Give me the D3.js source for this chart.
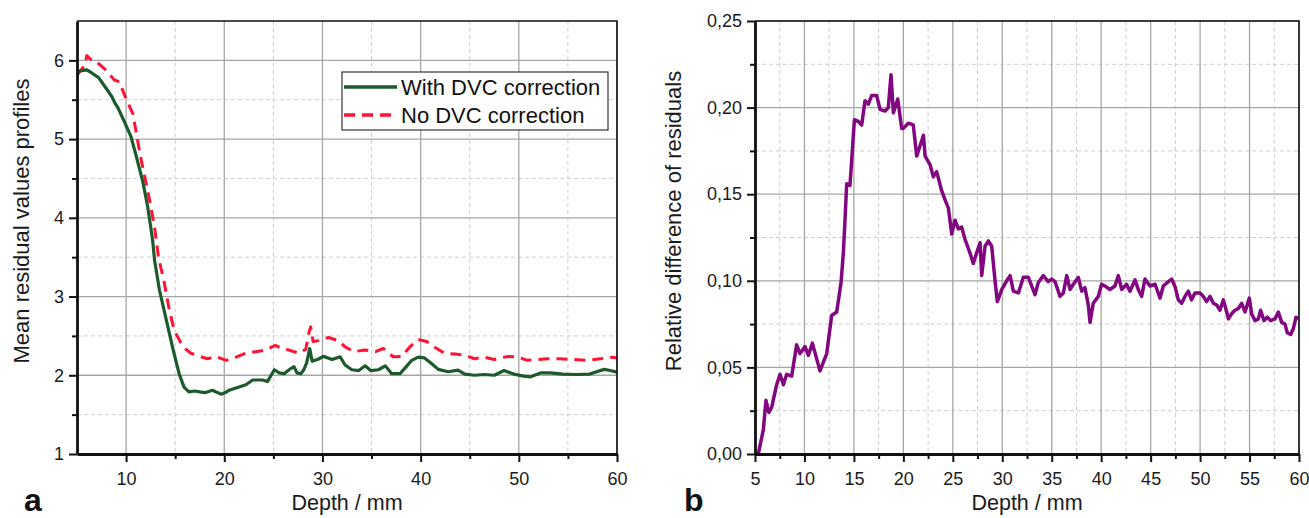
<!DOCTYPE html>
<html>
<head>
<meta charset="utf-8">
<script src="https://cdnjs.cloudflare.com/ajax/libs/d3/7.8.5/d3.min.js"></script>
<style>
  body { margin: 0; background: #fff; }
  svg { display: block; font-family: "Liberation Sans", Arial, sans-serif; }
</style>
</head>
<body>
<div class="canvas"></div>
<script>
// panel a: mean residual values profiles [depth mm, value]
const withDvc = [[5.0,5.86],[6.0,5.88],[6.5,5.84],[7.2,5.78],[8.0,5.64],[8.5,5.55],[8.9,5.45],[9.2,5.39],[9.9,5.2],[10.5,5.03],[11.0,4.8],[11.7,4.46],[12.2,4.14],[12.7,3.72],[12.9,3.46],[13.4,3.08],[14.1,2.70],[14.8,2.32],[15.4,2.02],[15.9,1.85],[16.4,1.79],[17.0,1.80],[17.5,1.79],[18.1,1.78],[18.8,1.81],[19.3,1.78],[19.7,1.76],[20.1,1.78],[20.5,1.81],[21.5,1.85],[22.2,1.88],[22.9,1.94],[23.9,1.94],[24.4,1.92],[25.1,2.07],[25.6,2.03],[26.1,2.02],[26.6,2.07],[27.1,2.11],[27.4,2.03],[27.8,2.02],[28.1,2.07],[28.4,2.16],[28.7,2.34],[28.95,2.18],[29.5,2.20],[30.1,2.24],[31.0,2.20],[31.8,2.235],[32.3,2.13],[33.0,2.07],[33.7,2.06],[34.35,2.12],[34.9,2.06],[35.7,2.07],[36.4,2.12],[37.05,2.02],[37.9,2.02],[38.4,2.09],[39.1,2.19],[39.75,2.23],[40.4,2.22],[41.1,2.15],[41.8,2.075],[42.8,2.045],[43.8,2.065],[44.5,2.015],[45.5,2.0],[46.5,2.01],[47.5,2.0],[48.5,2.06],[49.5,2.015],[50.5,1.99],[51.2,1.98],[52.2,2.03],[53.2,2.03],[54.5,2.015],[55.9,2.01],[57.2,2.015],[58.7,2.075],[59.3,2.06],[60.0,2.04]];

const noDvc = [[5.0,5.81],[5.8,5.94],[6.0,6.06],[6.5,6.0],[7.0,5.98],[8.0,5.87],[8.8,5.75],[9.3,5.73],[10.0,5.51],[10.7,5.32],[11.4,4.82],[11.9,4.52],[12.4,4.22],[12.9,3.88],[13.3,3.5],[13.9,3.17],[14.4,2.83],[14.9,2.57],[15.8,2.36],[16.6,2.28],[17.5,2.24],[18.3,2.21],[19.1,2.24],[20.2,2.19],[21.2,2.23],[22.2,2.28],[23.2,2.30],[24.2,2.32],[25.2,2.38],[25.9,2.34],[26.6,2.32],[27.6,2.28],[28.3,2.33],[28.6,2.53],[28.8,2.615],[29.05,2.43],[29.6,2.44],[30.6,2.48],[31.6,2.44],[32.3,2.36],[33.2,2.30],[34.3,2.32],[35.4,2.30],[36.2,2.34],[37.2,2.235],[38.1,2.24],[38.9,2.36],[39.75,2.455],[40.6,2.43],[41.4,2.36],[42.4,2.28],[43.5,2.27],[44.5,2.255],[45.5,2.21],[46.5,2.23],[47.5,2.20],[48.9,2.24],[49.9,2.23],[50.9,2.19],[51.9,2.20],[52.9,2.21],[54.2,2.21],[55.6,2.20],[56.9,2.19],[58.3,2.21],[59.6,2.23],[60.0,2.22]];

// panel b: relative difference of residuals [depth mm, value]
const relDiff = [[5.33,0.0],[5.84,0.014],[6.11,0.031],[6.4,0.024],[6.69,0.027],[7.19,0.040],[7.53,0.046],[7.87,0.040],[8.2,0.046],[8.71,0.045],[9.21,0.063],[9.55,0.058],[10.06,0.062],[10.4,0.057],[10.8,0.064],[11.57,0.048],[12.25,0.058],[12.75,0.080],[13.26,0.082],[13.7,0.099],[13.93,0.116],[14.1,0.135],[14.27,0.156],[14.6,0.155],[14.78,0.170],[15.05,0.193],[15.45,0.192],[15.79,0.190],[16.12,0.204],[16.46,0.202],[16.8,0.207],[17.3,0.207],[17.64,0.199],[18.15,0.198],[18.48,0.200],[18.75,0.219],[18.99,0.197],[19.43,0.205],[19.83,0.188],[20.0,0.188],[20.5,0.191],[21.0,0.190],[21.35,0.172],[21.69,0.178],[22.03,0.184],[22.2,0.172],[22.7,0.167],[23.03,0.160],[23.37,0.163],[23.87,0.152],[24.2,0.147],[24.55,0.142],[24.89,0.127],[25.22,0.135],[25.56,0.130],[25.9,0.131],[26.23,0.124],[26.74,0.116],[27.07,0.110],[27.4,0.116],[27.75,0.122],[27.92,0.103],[28.26,0.120],[28.6,0.123],[28.93,0.120],[29.27,0.100],[29.5,0.088],[29.95,0.095],[30.45,0.100],[30.79,0.103],[31.12,0.094],[31.63,0.093],[32.13,0.102],[32.64,0.102],[33.31,0.092],[33.64,0.099],[34.15,0.103],[34.65,0.0995],[35.0,0.101],[35.33,0.0995],[35.84,0.091],[36.18,0.093],[36.52,0.103],[36.85,0.095],[37.19,0.098],[37.69,0.102],[38.03,0.094],[38.36,0.096],[38.7,0.086],[38.87,0.076],[39.2,0.087],[39.71,0.091],[40.04,0.098],[40.38,0.097],[40.89,0.095],[41.39,0.097],[41.73,0.103],[42.07,0.095],[42.57,0.098],[42.91,0.094],[43.42,0.1005],[43.75,0.095],[44.09,0.091],[44.43,0.101],[44.93,0.097],[45.45,0.098],[45.95,0.090],[46.28,0.097],[46.79,0.0995],[47.13,0.101],[47.47,0.0966],[47.8,0.089],[48.14,0.087],[48.47,0.091],[48.81,0.094],[49.14,0.089],[49.48,0.093],[49.99,0.093],[50.32,0.091],[50.66,0.088],[51.0,0.091],[51.34,0.087],[51.68,0.086],[52.01,0.083],[52.35,0.089],[52.69,0.082],[52.86,0.078],[53.19,0.081],[53.53,0.083],[53.87,0.084],[54.2,0.087],[54.54,0.082],[54.98,0.090],[55.21,0.081],[55.55,0.077],[55.89,0.078],[56.12,0.083],[56.46,0.077],[56.8,0.079],[57.13,0.077],[57.57,0.078],[57.91,0.082],[58.25,0.076],[58.58,0.075],[58.82,0.070],[59.16,0.069],[59.43,0.0725],[59.7,0.079],[59.93,0.078]];

const seriesNames = ['With DVC correction', 'No DVC correction'];

// ticks
const xTicksA = [10, 20, 30, 40, 50, 60];
const xMinorA = [15, 25, 35, 45, 55];
const yTicksA = [1, 2, 3, 4, 5, 6];
const yMinorA = [1.5, 2.5, 3.5, 4.5, 5.5];
const xTicksB = [5, 10, 15, 20, 25, 30, 35, 40, 45, 50, 55, 60];
const xMinorB = [7.5, 12.5, 17.5, 22.5, 27.5, 32.5, 37.5, 42.5, 47.5, 52.5, 57.5];
const yTicksB = [0, 0.05, 0.10, 0.15, 0.20, 0.25];
const yMinorB = [0.025, 0.075, 0.125, 0.175, 0.225];

const svg = d3.select('.canvas')
    .append('svg')
    .attr('width', 1309)
    .attr('height', 518);

const drawPanel = (p) => {
    const x = d3.scaleLinear().domain(p.xDomain).range([p.left, p.right]);
    const y = d3.scaleLinear().domain(p.yDomain).range([p.bottom, p.top]);
    const g = svg.append('g');

    // minor grid (dashed)
    g.selectAll('.vminor').data(p.xMinor).enter().append('line')
        .attr('x1', d => x(d)).attr('x2', d => x(d))
        .attr('y1', p.top).attr('y2', p.bottom)
        .attr('stroke', '#cdcdcd').attr('stroke-width', 1).attr('stroke-dasharray', '4,3');
    g.selectAll('.hminor').data(p.yMinor).enter().append('line')
        .attr('x1', p.left).attr('x2', p.right)
        .attr('y1', d => y(d)).attr('y2', d => y(d))
        .attr('stroke', '#cdcdcd').attr('stroke-width', 1).attr('stroke-dasharray', '4,3');

    // major grid
    g.selectAll('.vmajor').data(p.xTicks).enter().append('line')
        .attr('x1', d => x(d)).attr('x2', d => x(d))
        .attr('y1', p.top).attr('y2', p.bottom)
        .attr('stroke', '#a6a6a6').attr('stroke-width', 1.3);
    g.selectAll('.hmajor').data(p.yTicks).enter().append('line')
        .attr('x1', p.left).attr('x2', p.right)
        .attr('y1', d => y(d)).attr('y2', d => y(d))
        .attr('stroke', '#a6a6a6').attr('stroke-width', 1.3);

    // lines
    const line = d3.line().x(d => x(d[0])).y(d => y(d[1]));
    p.series.forEach(s => {
        g.append('path')
            .datum(s.data)
            .attr('d', line)
            .attr('fill', 'none')
            .attr('stroke', s.color)
            .attr('stroke-width', s.width || 3)
            .attr('stroke-linejoin', 'round')
            .attr('stroke-dasharray', s.dash || null);
    });

    // frame top / right
    g.append('path')
        .attr('d', `M${p.left},${p.top}H${p.right}V${p.bottom}`)
        .attr('fill', 'none').attr('stroke', '#111').attr('stroke-width', 1.6);

    // minor ticks
    g.append('g').attr('transform', `translate(0,${p.bottom})`)
        .call(d3.axisBottom(x).tickValues(p.xMinor).tickSize(5).tickSizeOuter(0).tickFormat(''))
        .call(a => a.select('.domain').remove())
        .selectAll('line').attr('stroke', '#111').attr('stroke-width', 2);
    g.append('g').attr('transform', `translate(${p.left},0)`)
        .call(d3.axisLeft(y).tickValues(p.yMinor).tickSize(5).tickSizeOuter(0).tickFormat(''))
        .call(a => a.select('.domain').remove())
        .selectAll('line').attr('stroke', '#111').attr('stroke-width', 2);

    // major axes
    const xAxisGroup = g.append('g').attr('transform', `translate(0,${p.bottom})`)
        .call(d3.axisBottom(x).tickValues(p.xTicks).tickSize(8).tickSizeOuter(0).tickPadding(10));
    const yAxisGroup = g.append('g').attr('transform', `translate(${p.left},0)`)
        .call(d3.axisLeft(y).tickValues(p.yTicks).tickSize(8).tickSizeOuter(0).tickPadding(5).tickFormat(p.yFormat));

    [xAxisGroup, yAxisGroup].forEach(a => {
        a.select('.domain').attr('stroke', '#111').attr('stroke-width', 2.8);
        a.selectAll('.tick line').attr('stroke', '#111').attr('stroke-width', 2);
        a.selectAll('text').attr('fill', '#1a1a1a')
            .style('font-family', '"Liberation Sans", Arial, sans-serif')
            .style('font-size', '18px');
    });

    // axis titles
    g.append('text')
        .attr('x', (p.left + p.right) / 2).attr('y', 510)
        .attr('text-anchor', 'middle')
        .style('font-size', '21.5px').attr('fill', '#1a1a1a')
        .text('Depth / mm');
    g.append('text')
        .attr('transform', `translate(${p.yLabelX},221) rotate(-90)`)
        .attr('text-anchor', 'middle')
        .style('font-size', '22px').attr('fill', '#1a1a1a')
        .text(p.yLabel);

    // panel letter
    g.append('text')
        .attr('x', p.letterX).attr('y', 511)
        .style('font-size', '32px').style('font-weight', 'bold').attr('fill', '#111')
        .text(p.letter);

    return { x, y, g };
};

const colors = { green: '#1c5a2c', red: '#ff1233', purple: '#82067f' };

const pa = drawPanel({
    left: 77, right: 617, top: 21, bottom: 454,
    xDomain: [5, 60], yDomain: [1, 6.5],
    xTicks: xTicksA, xMinor: xMinorA, yTicks: yTicksA, yMinor: yMinorA,
    yFormat: d3.format('d'),
    yLabel: 'Mean residual values profiles', yLabelX: 29,
    letter: 'a', letterX: 24,
    series: [
        { data: noDvc, color: colors.red, dash: '11,7' },
        { data: withDvc, color: colors.green, width: 3.2 }
    ]
});

drawPanel({
    left: 755, right: 1299, top: 21, bottom: 454,
    xDomain: [5, 60], yDomain: [0, 0.25],
    xTicks: xTicksB, xMinor: xMinorB, yTicks: yTicksB, yMinor: yMinorB,
    yFormat: d => d3.format('.2f')(d).replace('.', ','),
    yLabel: 'Relative difference of residuals', yLabelX: 681,
    letter: 'b', letterX: 684,
    series: [
        { data: relDiff, color: colors.purple, width: 3.5 }
    ]
});

// legend (panel a)
const legend = pa.g.append('g');
legend.append('rect')
    .attr('x', 342).attr('y', 72).attr('width', 266).attr('height', 58)
    .attr('fill', '#fff').attr('stroke', '#333').attr('stroke-width', 1.2);
const legendItems = [
    { name: seriesNames[0], color: colors.green, dash: null },
    { name: seriesNames[1], color: colors.red, dash: '11,7' }
];
legendItems.forEach((item, i) => {
    const cy = 87 + i * 28;
    legend.append('line')
        .attr('x1', 344).attr('x2', 397).attr('y1', cy).attr('y2', cy)
        .attr('stroke', item.color).attr('stroke-width', 3.5)
        .attr('stroke-dasharray', item.dash);
    legend.append('text')
        .attr('x', 401).attr('y', cy + 8)
        .style('font-size', '22px').attr('fill', '#111')
        .text(item.name);
});
</script>
</body>
</html>
